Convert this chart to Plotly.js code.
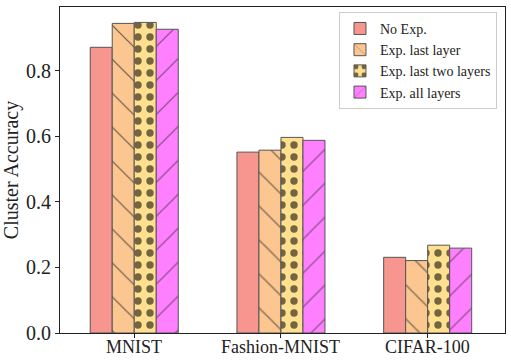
<!DOCTYPE html>
<html>
<head>
<meta charset="utf-8">
<script src="https://cdn.plot.ly/plotly-3.0.1.min.js"></script>
<style>
  html, body { margin: 0; padding: 0; background: #fff; }
  #chart { width: 511px; height: 364px; }
</style>
</head>
<body>
<div id="chart"></div>
<script>
// data
const datasets = ['MNIST', 'Fashion-MNIST', 'CIFAR-100'];
const noExp = [0.872, 0.552, 0.231];
const expLast = [0.945, 0.558, 0.221];
const expLastTwo = [0.948, 0.597, 0.268];
const expAll = [0.927, 0.588, 0.259];
const yTicks = [0, 0.2, 0.4, 0.6, 0.8];

const xs = [0, 1, 2];
const barW = 0.15;
const edge = { color: '#555555', width: 1 };
const font = 'Liberation Serif, DejaVu Serif, serif';

function series(name, vals, k, color, pattern) {
  return {
    type: 'bar',
    name: name,
    x: xs.map(v => v + (k - 1.5) * barW),
    y: vals,
    width: barW,
    marker: {
      color: color,
      line: edge,
      pattern: pattern
    }
  };
}

const data = [
  series('No Exp.', noExp, 0, '#f6968f', { shape: '' }),
  series('Exp. last layer', expLast, 1, '#fbc68f',
    { shape: '\\', fgcolor: '#6a5a4a', bgcolor: '#fbc68f', size: 24, solidity: 0.05 }),
  series('Exp. last two layers', expLastTwo, 2, '#ffdf90',
    { shape: '.', fgcolor: '#736540', bgcolor: '#ffdf90', size: 12, solidity: 0.3 }),
  series('Exp. all layers', expAll, 3, '#ff80ff',
    { shape: '/', fgcolor: '#7a4a7a', bgcolor: '#ff80ff', size: 24, solidity: 0.05 })
];

// category labels under the axis, a bit closer than plotly's tick labels
const xLabels = datasets.map((d, i) => ({
  text: d,
  xref: 'x',
  x: xs[i],
  yref: 'paper',
  y: 0,
  yanchor: 'top',
  yshift: -2,
  showarrow: false,
  font: { family: font, size: 18, color: '#222' }
}));

const layout = {
  width: 511,
  height: 364,
  margin: { l: 60, r: 6, t: 7, b: 31 },
  paper_bgcolor: '#ffffff',
  plot_bgcolor: '#ffffff',
  font: { family: font, color: '#222222', size: 18 },
  barmode: 'overlay',
  showlegend: true,
  annotations: xLabels,
  xaxis: {
    range: [-0.506, 2.527],
    tickvals: xs,
    showticklabels: false,
    ticks: 'outside',
    ticklen: 4,
    tickcolor: '#222',
    showline: true,
    linecolor: '#222',
    linewidth: 1,
    mirror: true,
    showgrid: false,
    zeroline: false
  },
  yaxis: {
    range: [0, 0.995],
    tickvals: yTicks,
    ticktext: yTicks.map(v => v.toFixed(1)),
    ticks: 'outside',
    ticklen: 4,
    tickcolor: '#222',
    showline: true,
    linecolor: '#222',
    linewidth: 1,
    mirror: true,
    showgrid: false,
    zeroline: false,
    tickfont: { family: font, size: 20 },
    title: { text: 'Cluster Accuracy', font: { family: font, size: 20 }, standoff: 8 }
  },
  legend: {
    x: 0.982,
    y: 0.985,
    xanchor: 'right',
    yanchor: 'top',
    bgcolor: 'rgba(255,255,255,0.9)',
    bordercolor: '#cccccc',
    borderwidth: 1,
    font: { family: font, size: 14, color: '#222' },
    traceorder: 'normal',
    itemwidth: 30
  }
};

Plotly.newPlot('chart', data, layout, { displayModeBar: false, staticPlot: true });
</script>
</body>
</html>
